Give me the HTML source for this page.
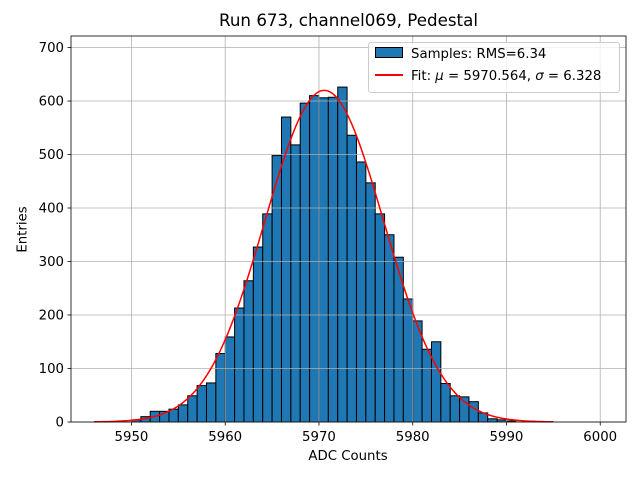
<!DOCTYPE html>
<html><head><meta charset="utf-8"><style>body{margin:0;background:#fff}svg{display:block;font-family:"DejaVu Sans","Liberation Sans",sans-serif}</style></head>
<body>
<svg id="c" width="640" height="480"></svg>
<script>
const binStart = 5950;
const counts = [4,10,20,20,24,32,49,68,73,128,159,213,264,327,389,498,570,518,596,610,606,607,626,536,486,447,389,350,308,230,189,136,150,72,49,47,38,17,6,4,2];
const xTicks = [5950,5960,5970,5980,5990,6000];
const yTicks = [0,100,200,300,400,500,600,700];
const fitMu = 5970.564, fitSigma = 6.328, fitAmp = 620, fitMin = 5946, fitMax = 5995;
const L=71,R=626,T=36,B=422, X0=5943.55, X1=6002.75, Y0=0, Y1=721.5;
const sx=v=>L+(v-X0)/(X1-X0)*(R-L);
const sy=v=>B-(v-Y0)/(Y1-Y0)*(B-T);
const NS='http://www.w3.org/2000/svg', svg=document.getElementById('c');
function mk(t,a,p){const e=document.createElementNS(NS,t);for(const k in a)e.setAttribute(k,a[k]);(p||svg).appendChild(e);return e;}
mk('rect',{x:0,y:0,width:640,height:480,fill:'#fff'});
counts.forEach((c,i)=>{const r=mk('rect',{x:sx(binStart+i),y:sy(c),width:sx(binStart+i+1)-sx(binStart+i),height:sy(0)-sy(c),fill:'#1f77b4',stroke:'#000','stroke-width':1});

});
xTicks.forEach(v=>{const x=sx(v);
const g=mk('line',{x1:x,x2:x,y1:T,y2:B,stroke:'#b0b0b0','stroke-width':0.8});


mk('line',{x1:x,x2:x,y1:B,y2:B+3.5,stroke:'#000','stroke-width':0.8});
const t=mk('text',{x:x,y:B+19,'text-anchor':'middle','font-size':13.3});t.textContent=v;

});
yTicks.forEach(v=>{const y=sy(v);
const g=mk('line',{x1:L,x2:R,y1:y,y2:y,stroke:'#b0b0b0','stroke-width':0.8});


mk('line',{x1:L-3.5,x2:L,y1:y,y2:y,stroke:'#000','stroke-width':0.8});
const t=mk('text',{x:L-7,y:y+4.5,'text-anchor':'end','font-size':13.3});t.textContent=v;

});
let d='';for(let i=0;i<=200;i++){const v=fitMin+(fitMax-fitMin)*i/200;const f=fitAmp*Math.exp(-0.5*((v-fitMu)/fitSigma)**2);d+=(i?'L':'M')+sx(v).toFixed(2)+','+sy(f).toFixed(2);}
const fl=mk('path',{d:d,fill:'none',stroke:'#f00','stroke-width':1.5});


mk('rect',{x:L,y:T,width:R-L,height:B-T,fill:'none',stroke:'#000','stroke-width':0.8});
</script>
<div style="position:absolute;left:0;top:0;width:640px;height:480px;font-family:'DejaVu Sans','Liberation Sans',sans-serif;pointer-events:none">
<div style="position:absolute;left:0;width:697px;top:10px;text-align:center;font-size:16.7px">Run 673, channel069, Pedestal</div>
<div style="position:absolute;left:0;width:696px;top:449px;text-align:center;font-size:13.3px">ADC Counts</div>
<div style="position:absolute;left:0px;top:222px;font-size:13.3px;transform:rotate(-90deg);transform-origin:center">Entries</div>
<div style="position:absolute;left:368px;top:42px;width:250px;height:49px;border:1px solid #ccc;border-radius:3px;background:rgba(255,255,255,.8);font-size:13.3px">
<div style="position:absolute;left:6px;top:4px;white-space:nowrap"><span style="display:inline-block;width:26px;height:9px;background:#1f77b4;border:1px solid #000;vertical-align:0px;margin-right:8px"></span>Samples: RMS=6.34</div>
<div style="position:absolute;left:6px;top:26px;white-space:nowrap"><span style="display:inline-block;width:28px;height:2px;background:#f00;vertical-align:4px;margin-right:8px"></span>Fit: <i>μ</i> = 5970.564, <i>σ</i> = 6.328</div>
</div>
</div>
</body></html>
